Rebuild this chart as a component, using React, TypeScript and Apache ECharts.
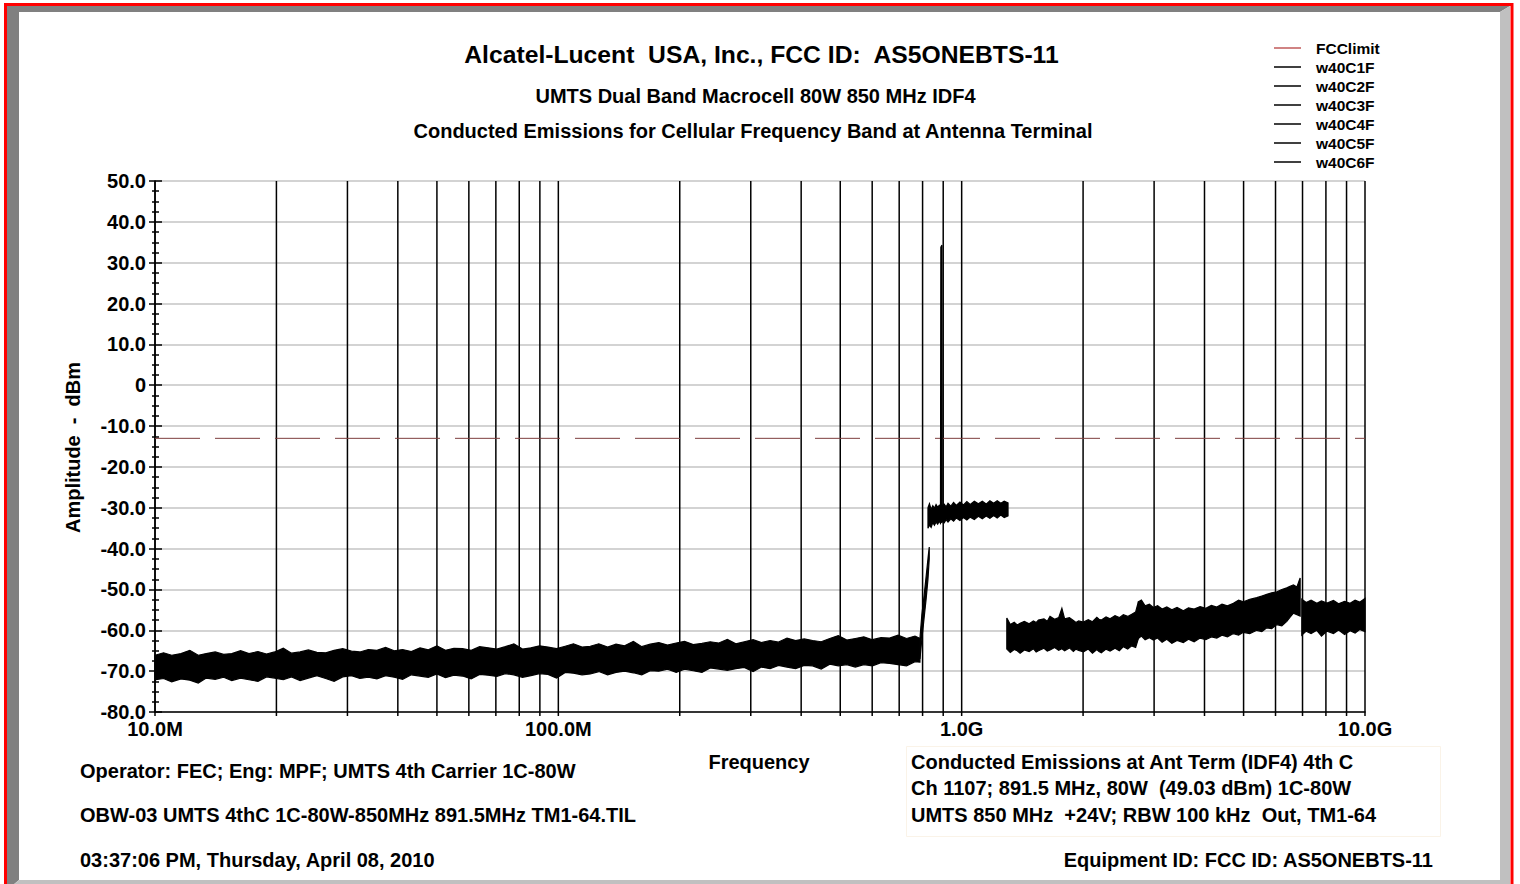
import React, { useEffect, useRef } from "react";
import * as echarts from "echarts";

const FONT = '"Liberation Sans", Arial, Helvetica, sans-serif';

const TITLE_MAIN = "Alcatel-Lucent  USA, Inc., FCC ID:  AS5ONEBTS-11";
const TITLE_SUB1 = "UMTS Dual Band Macrocell 80W 850 MHz IDF4";
const TITLE_SUB2 = "Conducted Emissions for Cellular Frequency Band at Antenna Terminal";
const Y_NAME = "Amplitude  -  dBm";
const X_NAME = "Frequency";
const NOTES_LEFT = [
  "Operator: FEC; Eng: MPF; UMTS 4th Carrier 1C-80W",
  "OBW-03 UMTS 4thC 1C-80W-850MHz 891.5MHz TM1-64.TIL",
  "03:37:06 PM, Thursday, April 08, 2010",
];
const NOTES_BOX = [
  "Conducted Emissions at Ant Term (IDF4) 4th C",
  "Ch 1107; 891.5 MHz, 80W  (49.03 dBm) 1C-80W",
  "UMTS 850 MHz  +24V; RBW 100 kHz  Out, TM1-64",
];
const EQUIPMENT = "Equipment ID: FCC ID: AS5ONEBTS-11";

// x axis (MHz, log)
const FREQ_TICKS = [10, 100, 1000, 10000];
const FREQ_LABELS = ["10.0M", "100.0M", "1.0G", "10.0G"];
const GRID_FREQS = [
  10, 20, 30, 40, 50, 60, 70, 80, 90,
  100, 200, 300, 400, 500, 600, 700, 800, 900,
  1000, 2000, 3000, 4000, 5000, 6000, 7000, 8000, 9000,
  10000,
];
// y axis (dBm)
const Y_MIN = -80;
const Y_MAX = 50;
const Y_STEP = 10;

const FCC_LIMIT_DBM = -13;

// traces as envelopes: [freq MHz, low dBm, high dBm]
const W40C1F = [
  [10, -72.1, -66.1], [10.5, -71.8, -65.5], [11, -72.6, -66.1], [11.6, -71.9, -65.7],
  [12.2, -72.2, -64.9], [12.8, -72.9, -66.1], [13.4, -71.7, -65.7], [14.1, -72.0, -65.3],
  [14.8, -71.5, -65.9], [15.5, -72.3, -65.7], [16.3, -71.7, -65.0], [17.1, -72.1, -65.7],
  [18, -72.5, -65.2], [18.9, -71.4, -65.8], [19.8, -71.7, -65.3], [20.8, -72.1, -64.4],
  [21.8, -71.4, -65.6], [22.9, -72.3, -65.3], [24, -71.7, -64.8], [25.2, -71.1, -65.4],
  [26.5, -71.8, -65.5], [27.8, -72.5, -64.9], [29.2, -71.4, -64.5], [30.7, -71.1, -65.1],
  [32.2, -71.8, -65.3], [33.8, -71.5, -64.7], [35.5, -71.9, -64.9], [37.3, -71.1, -64.2],
  [39.2, -71.5, -65.0], [41.1, -72.0, -64.7], [43.2, -70.9, -65.2], [45.4, -71.2, -64.3],
  [47.6, -71.5, -64.8], [50, -70.7, -63.8], [52.5, -71.6, -64.9], [55.1, -71.0, -64.4],
  [57.9, -71.2, -64.5], [60.8, -71.9, -64.9], [63.8, -70.8, -64.0], [67, -71.0, -64.3],
  [70.4, -71.3, -64.6], [73.9, -70.6, -64.0], [77.6, -70.9, -63.3], [81.5, -71.5, -64.6],
  [85.5, -71.1, -64.3], [89.8, -70.6, -63.8], [94.3, -70.8, -64.1], [99, -71.7, -64.5],
  [104, -70.3, -63.9], [109, -70.5, -63.3], [114.5, -70.9, -64.1], [120, -70.7, -63.9],
  [126, -70.1, -63.3], [132.5, -70.9, -64.1], [139, -70.3, -63.4], [146, -70.0, -63.8],
  [153.5, -70.4, -62.7], [161, -70.9, -64.0], [169, -69.9, -63.4], [177.5, -70.0, -63.0],
  [186.5, -69.5, -63.6], [196, -70.3, -63.1], [205.5, -69.5, -62.7], [216, -69.9, -63.5],
  [227, -70.3, -63.2], [238, -69.2, -62.8], [250, -69.5, -63.1], [262.5, -69.8, -62.2],
  [275.5, -69.4, -63.3], [289, -69.1, -62.8], [304, -70.1, -62.3], [319, -69.0, -63.0],
  [335, -69.4, -62.5], [351.5, -68.6, -62.9], [369, -69.0, -61.9], [387.5, -69.4, -62.5],
  [407, -68.6, -62.1], [427, -68.7, -62.5], [448.5, -69.5, -62.8], [471, -68.3, -62.0],
  [494.5, -68.7, -61.3], [519, -68.4, -62.4], [545, -69.0, -62.0], [572, -68.4, -61.6],
  [601, -68.7, -62.3], [631, -67.9, -61.8], [662.5, -68.1, -61.9], [695.5, -68.4, -61.2],
  [730, -68.7, -62.0], [766, -67.7, -61.4], [788, -67.8, -62.0],
];
const W40C2F = [
  [788, -67.0, -62.0], [797, -62.0, -56.0], [807, -57.0, -51.5],
  [816, -52.5, -47.0], [825, -47.5, -42.5], [831, -42.5, -39.6],
];
const W40C3F = [
  [825, -35.0, -30.0], [832, -34.2, -29.0], [840, -34.8, -30.4], [848, -33.6, -29.5],
  [856, -34.3, -30.1], [864, -33.5, -29.2], [872, -34.0, -29.9], [880, -33.3, -29.4],
  [886, -33.8, -29.8], [888, -33.4, 33.8], [893.5, -33.6, 34.3], [895, -33.2, -29.6],
  [905, -33.7, -29.1], [915, -32.9, -29.8], [925, -33.5, -28.9], [940, -32.7, -29.6],
  [955, -33.3, -28.7], [970, -32.5, -29.4], [990, -33.1, -28.6], [1010, -32.4, -29.3],
  [1030, -33.0, -28.5], [1050, -32.3, -29.2], [1075, -32.9, -28.4], [1100, -32.1, -29.0],
  [1125, -32.7, -28.4], [1150, -32.0, -29.1], [1175, -32.6, -28.3], [1200, -31.9, -28.9],
  [1225, -32.5, -28.3], [1250, -31.8, -28.9], [1275, -32.4, -28.4], [1303, -32.0, -28.8],
];
const W40C4F = [
  [1294, -64.6, -57.0], [1320, -65.4, -58.6], [1350, -64.7, -58.0], [1373, -65.0, -58.7],
  [1396, -65.6, -58.3], [1430, -64.8, -57.8], [1470, -65.2, -58.4], [1506, -64.5, -57.7],
  [1530, -65.3, -58.1], [1550, -65.0, -57.5], [1600, -64.4, -57.2], [1630, -65.1, -57.8],
  [1656, -64.8, -56.6], [1700, -64.2, -57.3], [1740, -64.9, -56.9], [1772, -64.5, -54.6],
  [1800, -65.0, -57.2], [1850, -64.3, -56.9], [1892, -65.2, -57.6], [1920, -64.6, -58.1],
  [1950, -64.9, -57.7], [2004, -65.3, -58.0], [2060, -64.6, -57.4], [2110, -65.6, -57.9],
  [2163, -64.7, -56.8], [2190, -65.2, -57.3], [2220, -65.5, -57.5], [2280, -64.6, -56.7],
  [2333, -65.1, -57.2], [2400, -64.4, -56.4], [2460, -65.0, -56.9], [2517, -64.0, -56.2],
  [2580, -64.6, -56.6], [2640, -63.8, -56.1], [2700, -64.2, -55.5], [2743, -62.0, -53.0],
];
const W40C5F = [
  [2743, -62.0, -53.0], [2790, -61.4, -52.6], [2850, -62.3, -54.0], [2920, -61.8, -53.6],
  [2988, -62.4, -54.4], [3060, -61.9, -54.0], [3140, -62.9, -54.8], [3225, -62.2, -54.3],
  [3320, -63.2, -55.0], [3420, -62.5, -54.4], [3545, -63.0, -55.2], [3650, -62.2, -54.5],
  [3770, -62.8, -54.8], [3901, -61.9, -54.2], [4030, -62.3, -54.6], [4160, -61.6, -53.9],
  [4290, -61.9, -54.3], [4420, -61.2, -53.6], [4560, -61.6, -54.0], [4718, -60.8, -53.4],
  [4860, -61.2, -52.6], [4995, -60.5, -53.0], [5180, -60.8, -52.4], [5391, -60.0, -52.0],
  [5550, -60.3, -51.6], [5708, -59.4, -51.2], [5870, -59.6, -50.8], [6045, -58.6, -50.6],
  [6220, -58.9, -50.0], [6400, -57.8, -49.6], [6520, -56.8, -49.2], [6646, -55.8, -48.9],
  [6780, -56.2, -49.4], [6905, -56.5, -47.2],
];
const W40C6F = [
  [6972, -61.2, -52.4], [7150, -60.2, -53.2], [7350, -60.8, -52.6], [7596, -60.0, -53.4],
  [7800, -61.4, -52.8], [8050, -60.2, -53.3], [8353, -60.8, -52.7], [8600, -59.9, -53.5],
  [8900, -61.0, -52.9], [9186, -60.1, -53.4], [9450, -60.7, -52.6], [9700, -59.8, -53.1],
  [10000, -60.3, -52.2],
];

const TRACES: [string, number[][]][] = [
  ["w40C1F", W40C1F],
  ["w40C2F", W40C2F],
  ["w40C3F", W40C3F],
  ["w40C4F", W40C4F],
  ["w40C5F", W40C5F],
  ["w40C6F", W40C6F],
];
const LEGEND_NAMES = ["FCClimit", "w40C1F", "w40C2F", "w40C3F", "w40C4F", "w40C5F", "w40C6F"];

function text(t: string, x: number, y: number, size: number, align = "left", extra: any = {}) {
  return {
    type: "text",
    x,
    y,
    silent: true,
    ...extra,
    style: {
      text: t,
      fontSize: size,
      fontWeight: "bold",
      fontFamily: FONT,
      fill: "#000",
      align,
      verticalAlign: "middle",
    },
  };
}

export default function App() {
  const ref = useRef<HTMLDivElement>(null);
  useEffect(() => {
    const chart = echarts.init(ref.current!, null, { renderer: "svg" });

    const traceSeries = TRACES.map(([name, pts]) => ({
      type: "custom",
      name,
      data: [[pts[0][0], pts[0][2]]],
      itemStyle: { color: "#000" },
      z: 4,
      renderItem: (_p: any, api: any) => {
        const top = pts.map((p) => api.coord([p[0], p[2]]));
        const bot = pts
          .slice()
          .reverse()
          .map((p) => api.coord([p[0], p[1]]));
        return {
          type: "polygon",
          shape: { points: top.concat(bot) },
          style: { fill: "#000", stroke: "#000", lineWidth: 1.2, lineJoin: "miter" },
        };
      },
    }));

    const gridSeries = {
      type: "custom",
      name: "grid",
      data: GRID_FREQS.map((f) => [f, Y_MIN]),
      z: 2,
      silent: true,
      renderItem: (_p: any, api: any) => {
        const f = api.value(0);
        const a = api.coord([f, Y_MAX]);
        const b = api.coord([f, Y_MIN]);
        return {
          type: "line",
          shape: { x1: a[0], y1: a[1], x2: b[0], y2: b[1] + 4 },
          style: { stroke: "#000", lineWidth: 1.5 },
        };
      },
    };

    const option: any = {
      animation: false,
      backgroundColor: "#fff",
      grid: { left: 155, right: 155, top: 181, bottom: 172, containLabel: false },
      legend: {
        orient: "vertical",
        left: 1269,
        top: 33.5,
        itemWidth: 27,
        itemHeight: 1.5,
        itemGap: 0,
        icon: "rect",
        selectedMode: false,
        data: LEGEND_NAMES,
        textStyle: {
          fontSize: 15.5,
          fontWeight: "bold",
          fontFamily: FONT,
          color: "#000",
          lineHeight: 19,
          padding: [0, 0, 0, 10],
        },
      },
      xAxis: {
        type: "log",
        logBase: 10,
        min: FREQ_TICKS[0],
        max: FREQ_TICKS[FREQ_TICKS.length - 1],
        axisLine: { show: true, onZero: false, lineStyle: { color: "#000", width: 1.5 } },
        axisTick: { show: false },
        splitLine: { show: false },
        axisLabel: {
          show: true,
          showMinLabel: true,
          showMaxLabel: true,
          margin: 7,
          fontSize: 20,
          fontWeight: "bold",
          fontFamily: FONT,
          color: "#000",
          formatter: (v: number) => {
            const i = FREQ_TICKS.findIndex((t) => Math.abs(t - v) / t < 1e-6);
            return i >= 0 ? FREQ_LABELS[i] : "";
          },
        },
      },
      yAxis: [
        {
          type: "value",
          position: "left",
          offset: 0,
          min: Y_MIN,
          max: Y_MAX,
          interval: Y_STEP,
          axisLine: { show: true, onZero: false, lineStyle: { color: "#000", width: 1.5 } },
          axisTick: { show: true, inside: false, length: 6, lineStyle: { color: "#000", width: 1.5 } },
          minorTick: { show: true, splitNumber: 4, length: 3, lineStyle: { color: "#000", width: 1.5 } },
          splitLine: { show: true, lineStyle: { color: "#c4c4c4", width: 1.5 } },
          axisLabel: {
            margin: 9,
            fontSize: 20,
            fontWeight: "bold",
            fontFamily: FONT,
            color: "#000",
            showMinLabel: true,
            showMaxLabel: true,
            formatter: (v: number) => (v === 0 ? "0" : v.toFixed(1)),
          },
        },
        {
          type: "value",
          position: "left",
          offset: 0,
          min: Y_MIN,
          max: Y_MAX,
          interval: Y_STEP,
          axisLine: { show: false, onZero: false },
          axisTick: { show: true, inside: true, length: 7, lineStyle: { color: "#000", width: 1.5 } },
          minorTick: { show: true, splitNumber: 4, length: 4, lineStyle: { color: "#000", width: 1.5 } },
          splitLine: { show: false },
          axisLabel: { show: false },
        },
      ],
      series: [
        gridSeries,
        {
          type: "line",
          name: "FCClimit",
          data: [
            [FREQ_TICKS[0], FCC_LIMIT_DBM],
            [FREQ_TICKS[FREQ_TICKS.length - 1], FCC_LIMIT_DBM],
          ],
          symbol: "none",
          z: 3,
          itemStyle: { color: "#c05a5a" },
          lineStyle: { color: "#7e3e3e", width: 1, type: [45, 15] },
        },
        ...traceSeries,
      ],
      graphic: [
        {
          type: "polygon",
          silent: true,
          shape: { points: [[7, 6], [1510, 6], [1500, 12], [19, 12], [19, 880], [7, 890]] },
          style: { fill: "#808080" },
        },
        {
          type: "polygon",
          silent: true,
          shape: { points: [[1510, 6], [1510, 890], [7, 890], [19, 880], [1500, 880], [1500, 12]] },
          style: { fill: "#c0c0c0" },
        },
        {
          type: "rect",
          silent: true,
          shape: { x: 5.5, y: 4.5, width: 1506.5, height: 892 },
          style: { fill: "none", stroke: "#ff0000", lineWidth: 3 },
        },
        {
          type: "rect",
          silent: true,
          shape: { x: 906.5, y: 746.5, width: 534, height: 90 },
          style: { fill: "none", stroke: "#faf3e8", lineWidth: 1 },
        },
        text(TITLE_MAIN, 761.5, 54, 24.7, "center"),
        text(TITLE_SUB1, 755.5, 96, 20, "center"),
        text(TITLE_SUB2, 753, 131, 20, "center"),
        text(Y_NAME, 73, 447.5, 20, "center", { rotation: Math.PI / 2 }),
        text(X_NAME, 759, 762, 20, "center"),
        text(NOTES_LEFT[0], 80, 771, 20),
        text(NOTES_LEFT[1], 80, 815, 20),
        text(NOTES_LEFT[2], 80, 860, 20),
        text(NOTES_BOX[0], 911, 762, 20),
        text(NOTES_BOX[1], 911, 788, 20),
        text(NOTES_BOX[2], 911, 815, 20),
        text(EQUIPMENT, 1433, 860, 20, "right"),
      ],
    };

    chart.setOption(option);
    return () => chart.dispose();
  }, []);

  return (
    <div
      ref={ref}
      style={{ position: "fixed", left: 0, top: 0, width: 1520, height: 884, background: "#fff" }}
    />
  );
}
